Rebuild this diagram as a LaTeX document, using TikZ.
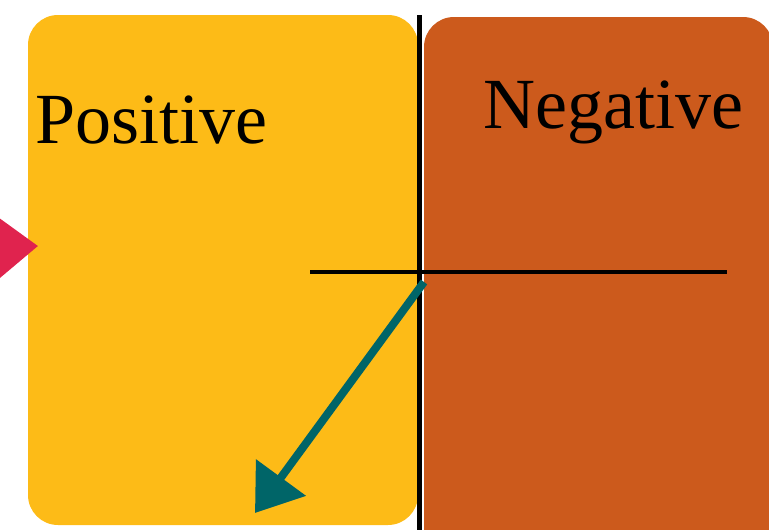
\documentclass[tikz,border=0pt]{standalone}
\usepackage{fontspec}
\setmainfont{Liberation Serif}
\usetikzlibrary{arrows.meta}
\definecolor{panelyellow}{HTML}{FDBB17}
\definecolor{panelorange}{HTML}{CC5A1C}
\definecolor{arrowteal}{HTML}{006568}
\definecolor{arrowred}{HTML}{E0234E}

\begin{document}
\begin{tikzpicture}[x=1pt, y=-1pt,
    panel/.style={rounded corners=30pt},
    axis/.style={line width=4.5pt, black},
    lbl/.style={font=\fontsize{72}{80}\selectfont, anchor=base west, inner sep=0pt},
    arr/.style={-{Triangle[length=44pt,width=60pt]}, line width=8pt}
]
\useasboundingbox (0,0) rectangle (769,530);
\fill[panelyellow, panel] (28,15) rectangle (418,525);
\fill[panelorange, panel] (424,17) rectangle (773,570);
\node[lbl] (pos) at (35,143) {Positive};
\node[lbl] (neg) at (483,128) {Negative};
\coordinate (top) at (419.5,15);
\coordinate (bot) at (419.5,530);
\coordinate (left) at (310,272);
\coordinate (right) at (727,272);
\coordinate (origin) at (424,282);
\coordinate (tip) at (255,513);
\coordinate (tail) at (-70,250);
\coordinate (redtip) at (38,246);
\draw[axis] (top) -- (bot);
\draw[axis] (left) -- (right);
\draw[arr, arrowteal] (origin) -- (tip);
\draw[arr, arrowred, arrows={-{Triangle[length=50pt,width=76pt]}}] (tail) -- (redtip);
\end{tikzpicture}
\end{document}
